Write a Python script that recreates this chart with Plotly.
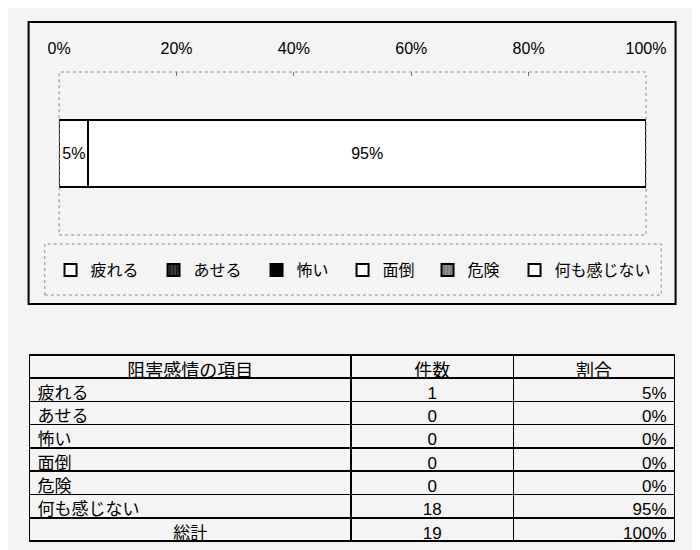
import plotly.graph_objects as go

# data
items = ["疲れる", "あせる", "怖い", "面倒", "危険", "何も感じない"]
counts = [1, 0, 0, 0, 0, 18]
shares = [5, 0, 0, 0, 0, 95]
total_label = "総計"
tick_vals = [0, 20, 40, 60, 80, 100]

W, H = 700, 550
BG = "#f4f4f4"
FONT = "Liberation Sans, Arial, Noto Sans CJK JP"


def px_x(v):
    return v / W


def px_y(v):
    return 1 - v / H


# swatch styles per item
fills = ["white", "#1a1a1a", "black", "white", "#777777", "white"]
patterns = ["", "|", "", "", "|", ""]
pattern_fg = ["black", "#9a9a9a", "black", "black", "#cfcfcf", "black"]
legend_widths = [58, 58, 41, 40, 42, 100]

fig = go.Figure()
for name, val, fc, pat, pfg, lw in zip(items, shares, fills, patterns, pattern_fg, legend_widths):
    fig.add_trace(go.Bar(
        y=["阻害感情"], x=[val / 100], name=name, orientation="h",
        marker=dict(color=fc, line=dict(color="black", width=2),
                    pattern=dict(shape=pat, fgcolor=pfg, bgcolor=fc, size=4, solidity=0.3)),
        text=[f"{val}%" if val else ""], textposition="inside",
        insidetextanchor="middle", constraintext="none",
        textfont=dict(family=FONT, size=16, color="black"),
        legendwidth=lw, hoverinfo="skip",
    ))

total = sum(counts)
pct_text = [f"{s}%" for s in shares] + ["100%"]
fig.add_trace(go.Table(
    domain=dict(x=[px_x(10), px_x(686)], y=[px_y(534), px_y(347)]),
    columnwidth=[337, 170, 169],
    header=dict(values=["阻害感情の項目", "件数", "割合"],
                align="center", height=23,
                fill_color=BG, line=dict(color="black", width=1.5),
                font=dict(family=FONT, size=18, color="black")),
    cells=dict(values=[items + [total_label], counts + [total], pct_text],
               align=["left", "center", "right"],
               height=23.3,
               fill_color=BG, line=dict(color="black", width=1.5),
               font=dict(family=FONT, size=17, color="black")),
))
# plotly.js accepts per-cell align, the python validator does not -> set it directly
fig.data[-1].cells._props["align"] = [["left"] * len(items) + ["center"],
                                       ["center"] * (len(items) + 1),
                                       ["right"] * (len(items) + 1)]

fig.update_layout(
    width=W, height=H, barmode="stack", bargap=0.59,
    paper_bgcolor=BG, plot_bgcolor=BG,
    margin=dict(l=0, r=0, t=0, b=0),
    font=dict(family=FONT, color="black"),
    showlegend=True,
    legend=dict(orientation="h", x=px_x(32), xanchor="left",
                y=px_y(262), yanchor="middle", traceorder="normal",
                font=dict(family=FONT, size=16, color="black"),
                bgcolor="rgba(0,0,0,0)", itemclick=False),
    xaxis=dict(domain=[px_x(41), px_x(656)], range=[0, 1], side="top",
               tickvals=[t / 100 for t in tick_vals],
               ticktext=[f"{t}%" for t in tick_vals],
               ticks="inside", ticklen=4, tickcolor="#777",
               ticklabelstandoff=14,
               tickfont=dict(family=FONT, size=16, color="black"),
               showgrid=False, zeroline=False, showline=False, fixedrange=True),
    yaxis=dict(domain=[px_y(227), px_y(64)], showticklabels=False,
               showgrid=False, zeroline=False, fixedrange=True),
    shapes=[
        # outer chart frame
        dict(type="rect", xref="paper", yref="paper",
             x0=px_x(9), x1=px_x(687), y0=px_y(296), y1=px_y(14),
             line=dict(color="black", width=2)),
        # dotted plot-area border
        dict(type="rect", xref="x domain", yref="y domain",
             x0=0, x1=1, y0=0, y1=1,
             line=dict(color="#888", width=1, dash="dot")),
        # dotted legend box
        dict(type="rect", xref="paper", yref="paper",
             x0=px_x(26), x1=px_x(672), y0=px_y(287), y1=px_y(236),
             line=dict(color="#888", width=1, dash="dot")),
    ],
)

fig.write_html("out.html")
